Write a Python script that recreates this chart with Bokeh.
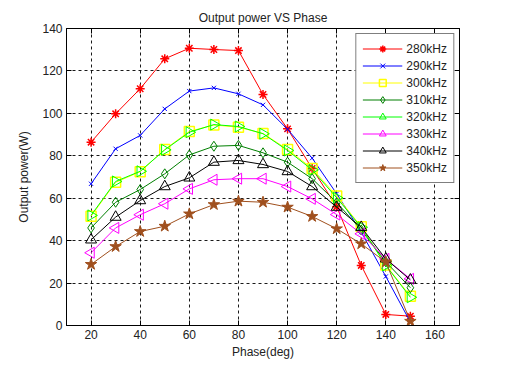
import math
from bokeh.plotting import figure
from bokeh.models import Legend, LegendItem, LinearAxis, Range1d, FixedTicker, ColumnDataSource
from bokeh.embed import file_html
from bokeh.resources import INLINE

phase = [20, 30, 40, 50, 60, 70, 80, 90, 100, 110, 120, 130, 140, 150]
f280 = [86.4, 99.8, 111.6, 125.7, 130.7, 130.1, 129.6, 108.9, 92.7, 74.0, 56.0, 28.3, 5.2, 4.4]
f290 = [66.8, 83.3, 89.6, 102.1, 110.5, 112.0, 109.2, 104.0, 92.5, 78.9, 62.1, 44.0, 23.1, 1.6]
f300 = [51.5, 67.5, 72.5, 83.0, 91.5, 94.5, 93.5, 90.5, 83.0, 74.0, 61.0, 46.5, 28.5, 13.8]
f310 = [46.0, 58.1, 64.1, 71.5, 80.4, 84.5, 84.9, 81.4, 77.0, 69.2, 58.0, 45.0, 30.0, 17.8]
f320 = [51.9, 67.9, 72.7, 82.8, 91.1, 94.7, 93.8, 90.4, 82.5, 73.4, 60.2, 46.3, 28.3, 13.3]
f330 = [34.3, 46.0, 52.2, 57.4, 64.4, 68.7, 69.2, 69.2, 65.5, 59.7, 52.3, 43.2, 31.4, 22.0]
f340 = [40.4, 51.1, 58.9, 65.5, 69.6, 77.0, 77.8, 75.9, 72.6, 65.5, 55.8, 46.3, 31.4, 21.5]
f350 = [28.8, 37.2, 44.3, 46.8, 52.6, 57.0, 58.6, 58.1, 55.8, 51.4, 45.6, 38.5, 29.9, 2.0]
labels = ["280kHz", "290kHz", "300kHz", "310kHz", "320kHz", "330kHz", "340kHz", "350kHz"]
x_ticks = [20, 40, 60, 80, 100, 120, 140, 160]
y_ticks = [0, 20, 40, 60, 80, 100, 120, 140]

FONT = "Liberation Sans"
TXT = "#222222"

p = figure(width=495, height=351, output_backend="svg", toolbar_location=None,
           x_range=Range1d(10, 170), y_range=Range1d(0, 140),
           min_border_left=66, min_border_right=35, min_border_top=28, min_border_bottom=30,
           title="Output power VS Phase")
p.frame_width = 393
p.frame_height = 297
p.title.align = "center"
p.title.text_font = FONT
p.title.text_font_size = "12px"
p.title.text_font_style = "normal"
p.title.text_color = TXT
p.title.offset = 0
p.title.standoff = 8

p.outline_line_color = "black"
p.outline_line_width = 1
p.background_fill_color = "white"
p.border_fill_color = "white"

for ax in (p.xaxis[0], p.yaxis[0]):
    ax.major_label_text_font = FONT
    ax.major_label_text_font_size = "12px"
    ax.major_label_text_color = TXT
    ax.axis_label_text_font = FONT
    ax.axis_label_text_font_size = "12px"
    ax.axis_label_text_font_style = "normal"
    ax.axis_label_text_color = TXT
    ax.major_tick_in = 5
    ax.major_tick_out = 0
    ax.minor_tick_line_color = None
    ax.axis_line_color = "black"
    ax.major_tick_line_color = "black"
p.xaxis[0].ticker = FixedTicker(ticks=x_ticks)
p.yaxis[0].ticker = FixedTicker(ticks=y_ticks)
p.xaxis[0].axis_label = "Phase(deg)"
p.yaxis[0].axis_label = "Output power(W)"
p.xaxis[0].major_label_standoff = 4
p.xaxis[0].axis_label_standoff = 3
p.yaxis[0].major_label_standoff = 4
p.yaxis[0].axis_label_standoff = 8

top_ax = LinearAxis(ticker=FixedTicker(ticks=x_ticks), major_label_text_color=None,
                    major_tick_in=5, major_tick_out=0, minor_tick_line_color=None,
                    major_label_text_font_size="1px")
right_ax = LinearAxis(ticker=FixedTicker(ticks=y_ticks), major_label_text_color=None,
                      major_tick_in=5, major_tick_out=0, minor_tick_line_color=None,
                      major_label_text_font_size="1px")
p.add_layout(top_ax, "above")
p.add_layout(right_ax, "right")

p.xgrid.ticker = FixedTicker(ticks=x_ticks)
p.ygrid.ticker = FixedTicker(ticks=y_ticks)
for g in (p.xgrid[0], p.ygrid[0]):
    g.grid_line_color = "black"
    g.grid_line_dash = "3 3"
    g.grid_line_width = 1
    g.grid_line_alpha = 0.9

series = [
    (f280, "#FF0000", "asterisk", 0.0, 9, True),
    (f290, "#0000FF", "x", 0.0, 6, False),
    (f300, "#FFFF00", "square", 0.0, 10, False),
    (f310, "#007F00", "diamond", 0.0, 10, False),
    (f320, "#00FF00", "triangle", -math.pi / 2, 11, False),
    (f330, "#FF00FF", "triangle", math.pi / 2, 11, False),
    (f340, "#000000", "triangle", 0.0, 11, False),
    (f350, "#A0501E", "star", 0.0, 12, True),
]

items = []
for (vals, col, mk, ang, sz, filled), lab in zip(series, labels):
    src = ColumnDataSource(dict(x=phase, y=vals, a=[ang] * len(phase)))
    ln = p.line("x", "y", source=src, line_color=col, line_width=1)
    sc = p.scatter("x", "y", source=src, marker=mk, size=sz, angle="a", angle_units="rad",
                   line_color=col, line_width=1.5 if mk in ("asterisk", "square") else 1,
                   fill_color=col if filled else None)
    items.append(LegendItem(label=lab, renderers=[ln, sc]))

legend = Legend(items=items, location="top_right")
legend.margin = 5
legend.padding = 6
legend.spacing = 0
legend.glyph_width = 40
legend.glyph_height = 17
legend.label_height = 17
legend.label_standoff = 4
legend.label_text_font = FONT
legend.label_text_font_size = "12px"
legend.label_text_color = TXT
legend.border_line_color = "black"
legend.border_line_width = 1
legend.background_fill_color = "white"
legend.background_fill_alpha = 1
p.add_layout(legend, "center")

open("out.html", "w").write(file_html(p, INLINE))
